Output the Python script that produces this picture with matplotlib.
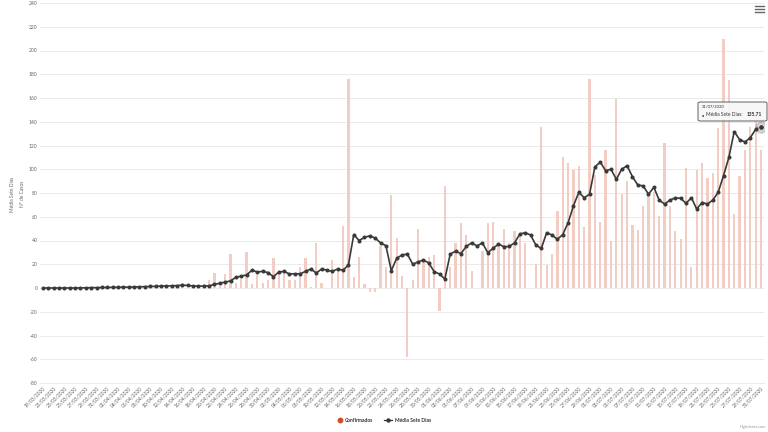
import matplotlib
matplotlib.use("Agg")
import matplotlib.pyplot as plt
from matplotlib.lines import Line2D
from matplotlib.patches import FancyBboxPatch
import pandas as pd
import numpy as np

dates = pd.date_range("2020-03-19", "2020-07-31", freq="D").strftime("%d/%m/%Y").tolist()

confirmados = [0,0,0,0,0,0,0,1,0,1,0,1,0,1,0,1,0,1,1,1,1,1,1,1,1,1,4,0,0,1,
               3,7,13,2,12,29,4,8,30,3,
               11,4,7,25,13,15,7,7,18,25,
               1,38,4,0,24,15,52,176,9,26,
               3,-3,-3,35,18,78,42,10,-58,7,
               50,24,26,28,-19,86,18,38,55,45,
               14,0,31,55,56,38,50,38,48,45,
               38,0,20,136,19,29,65,110,105,99,
               103,51,176,95,56,116,40,159,79,90,
               53,49,69,78,81,61,122,69,48,41,
               101,18,99,105,93,97,135,210,175,62,
               94,116,136,147,116]

media_sete_dias = [0,0,0,0,0,0,0,0.14,0.14,0.29,0.29,0.43,0.43,0.57,0.57,0.71,0.71,0.86,1.0,1.14,
                   1.29,1.43,1.57,1.71,1.86,2.0,2.43,2.14,1.71,1.57,
                   1.57,1.86,3.0,4.0,5.0,6.0,9.0,10.0,11.0,15.0,
                   13.5,14.0,13.0,9.5,13.4,14.0,11.8,12.0,12.0,14.0,
                   16.0,12.6,16.0,15.0,14.0,16.0,15.0,19.4,45.0,40.0,
                   42.6,44.0,42.0,38.0,35.6,14.6,25.0,27.8,28.6,20.0,
                   22.0,23.6,21.0,13.8,11.8,7.6,28.6,31.0,29.0,35.0,
                   38.0,35.4,38.0,29.8,33.4,37.0,34.8,35.0,38.0,45.5,
                   46.6,44.6,36.0,33.4,46.6,44.6,41.0,45.0,55.0,69.3,
                   80.6,76.0,79.0,102.0,106.0,98.8,100.0,91.5,100.0,103.0,
                   93.8,86.7,86.0,79.0,84.8,74.0,70.7,74.0,76.0,75.5,
                   71.3,76.0,66.5,72.0,70.7,74.0,80.6,94.6,110.0,131.7,
                   125.0,123.0,126.6,133.6,135.71]

y_ticks = list(range(-80, 241, 20))

plt.rcParams['font.family'] = ['Lato', 'DejaVu Sans']

fig = plt.figure(figsize=(7.68, 4.32), dpi=100)
ax = fig.add_axes([40.3/768, 49/432, 723.4/768, 380/432])

x = np.arange(len(dates))
ax.bar(x, confirmados, width=0.42, color='#f2cdc4', zorder=2)
ax.plot(x, media_sete_dias, color='#3a3a3a', lw=1.2, marker='o', ms=1.9, zorder=3)
# hovered last point
ax.plot([x[-1]], [media_sete_dias[-1]], 'o', ms=9, color='#3a3a3a', alpha=0.25, zorder=4, mec='none')
ax.plot([x[-1]], [media_sete_dias[-1]], 'o', ms=4, color='#3a3a3a', mec='white', mew=0.5, zorder=5)

ax.set_xlim(-0.5, len(dates) - 0.5)
ax.set_ylim(-80, 240)
ax.set_yticks(y_ticks)
ax.set_yticklabels([str(v) for v in y_ticks], fontsize=3.6, color='#666666')
ax.set_xticks(x[::2])
ax.set_xticklabels(dates[::2], rotation=45, ha='right', rotation_mode='anchor',
                   fontsize=3.5, color='#666666')
ax.tick_params(axis='both', length=0, pad=2)
ax.grid(axis='y', color='#e6e6e6', lw=0.6, zorder=0)
ax.set_axisbelow(True)
for s in ['top', 'right', 'left']:
    ax.spines[s].set_visible(False)
ax.spines['bottom'].set_color('#e6e6e6')
ax.spines['bottom'].set_linewidth(0.6)

# axis titles
fig.text(12/768, 1 - 194/432, 'Média Sete Dias', rotation=90, ha='center', va='center',
         fontsize=3.5, color='#666666')
fig.text(22/768, 1 - 194/432, 'Nº de Casos', rotation=90, ha='center', va='center',
         fontsize=3.5, color='#666666')

# legend
ly = 1 - 420/432
fig.add_artist(Line2D([340/768], [ly], marker='o', ms=3.2, color='#e0452b', transform=fig.transFigure))
fig.text(345/768, ly, 'Confirmados', fontsize=3.6, fontweight='bold', color='#333333', va='center')
fig.add_artist(Line2D([384/768, 392/768], [ly, ly], color='#3a3a3a', lw=0.9,
                      transform=fig.transFigure))
fig.add_artist(Line2D([388/768], [ly], marker='o', ms=2.2, color='#3a3a3a', transform=fig.transFigure))
fig.text(395/768, ly, 'Média Sete Dias', fontsize=3.6, fontweight='bold', color='#333333', va='center')

# credits
fig.text(766/768, 1 - 427/432, 'Highcharts.com', fontsize=2.8, color='#999999', ha='right', va='center')

# menu icon
for yy in [6, 9, 12]:
    fig.add_artist(Line2D([755/768, 764/768], [1 - yy/432, 1 - yy/432], color='#666666', lw=1.0,
                          transform=fig.transFigure))

# tooltip
tb = FancyBboxPatch((698/768, 1 - 121/432), 69/768, 19/432, boxstyle='round,pad=0,rounding_size=0.003',
                    transform=fig.transFigure, facecolor='#f7f7f7', edgecolor='#3a3a3a', lw=0.6, alpha=0.92)
fig.add_artist(tb)
fig.text(702/768, 1 - 107/432, dates[-1], fontsize=3.0, color='#333333', va='center')
fig.text(702/768, 1 - 115/432, '●', fontsize=2.6, color='#3a3a3a', va='center')
fig.text(706/768, 1 - 115/432, 'Média Sete Dias:', fontsize=3.5, color='#333333', va='center')
fig.text(747/768, 1 - 115/432, f'{media_sete_dias[-1]:.2f}', fontsize=3.5, fontweight='bold',
         color='#333333', va='center')

fig.savefig('out.png', dpi=100)
